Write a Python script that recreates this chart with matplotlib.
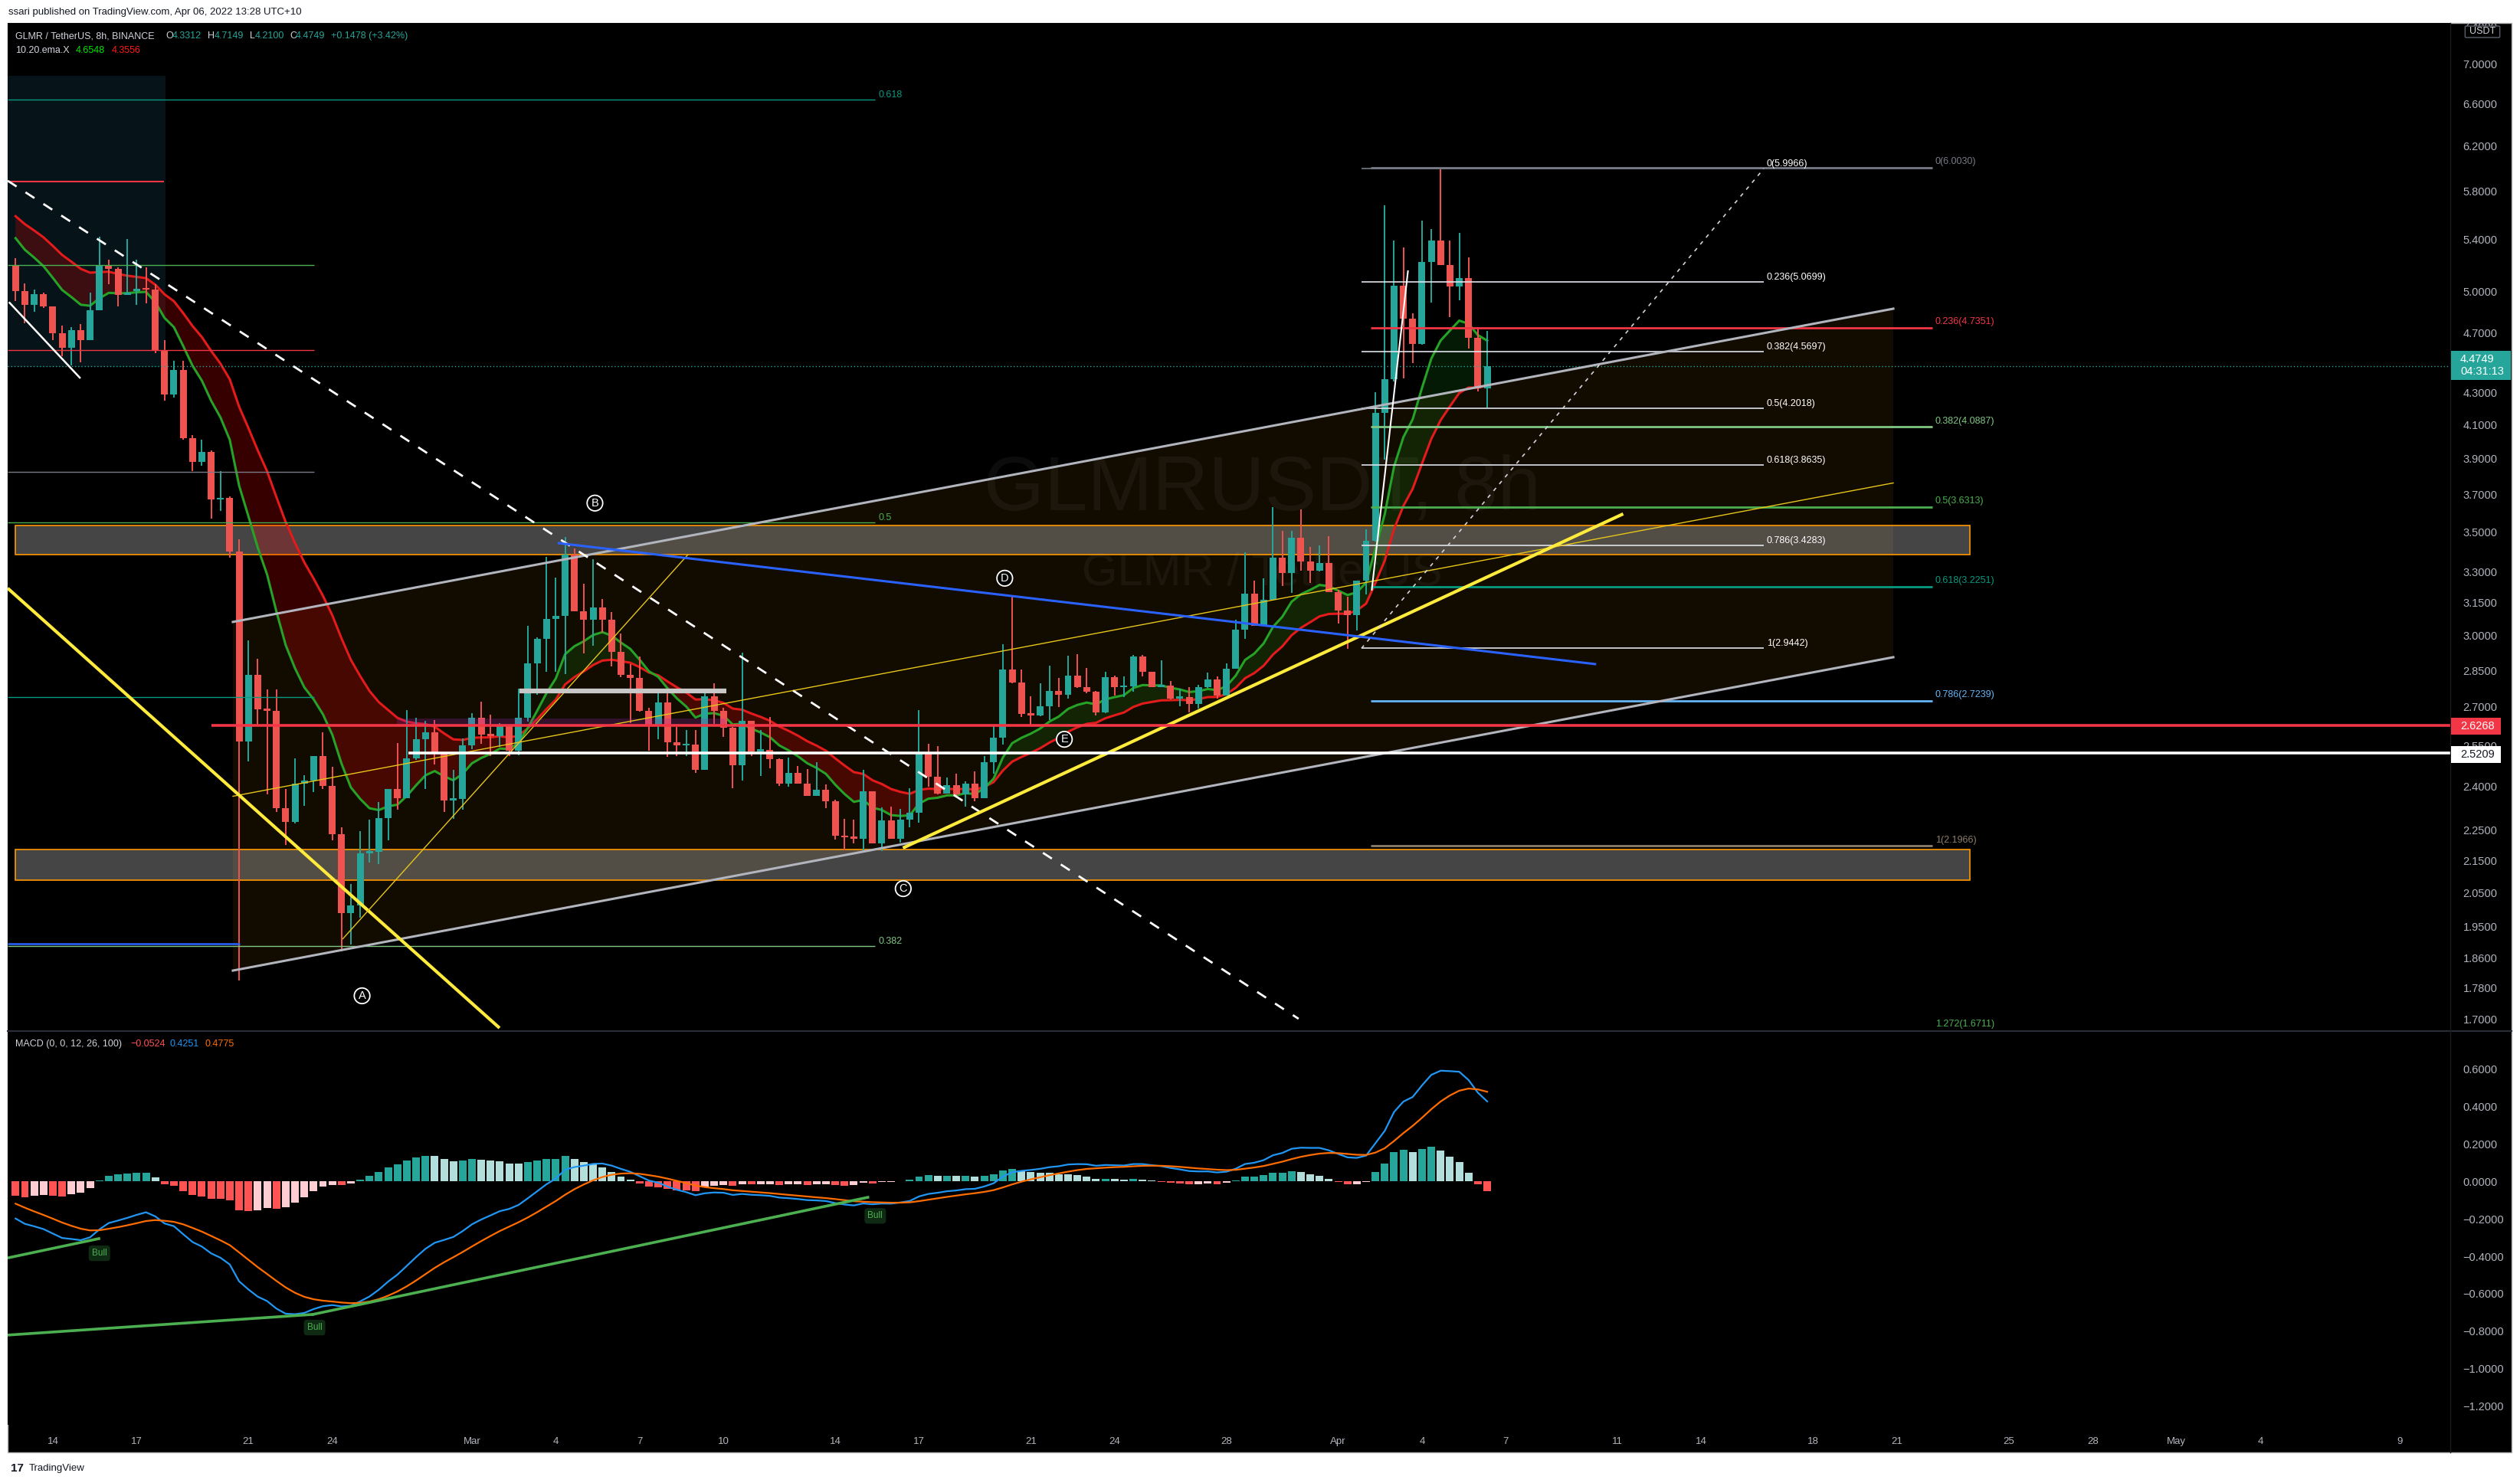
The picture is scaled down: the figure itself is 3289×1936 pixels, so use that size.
"""
GLMR / TetherUS 8h - TradingView style recreation.
Candles + EMA ribbon + drawings, MACD pane underneath.
"""

import matplotlib
matplotlib.use('Agg')
import numpy as np
import matplotlib.pyplot as plt
from matplotlib.patches import Rectangle, Polygon, FancyBboxPatch
from matplotlib.ticker import FixedLocator, NullLocator, NullFormatter, FixedFormatter
from matplotlib.transforms import blended_transform_factory

plt.rcParams['font.family'] = ['Liberation Sans', 'DejaVu Sans']

W, H = 3289, 1936
def fx(px): return px / W
def fy(py): return 1 - py / H

# ── Data (bar index: 0 = Feb 14 00:00, 3 bars per day) ──────────
first_bar = -4
opens = [5.19, 5.00, 4.90, 4.98, 4.89, 4.70, 4.60, 4.72, 4.65, 4.86,
         5.19, 5.17, 4.97, 5.00, 5.02, 5.01, 4.58, 4.29, 4.45, 4.02,
         3.88, 3.94, 3.67, 3.68, 3.40, 2.565, 2.83, 2.69, 2.685, 2.322,
         2.275, 2.41, 2.42, 2.51, 2.40, 2.235, 1.988, 2.011, 2.173, 2.177,
         2.288, 2.39, 2.359, 2.502, 2.573, 2.60, 2.525, 2.351, 2.355, 2.549,
         2.657, 2.592, 2.586, 2.627, 2.531, 2.657, 2.880, 2.986, 3.076, 3.089,
         3.382, 3.110, 3.073, 3.129, 3.073, 2.930, 2.831, 2.817, 2.685, 2.625,
         2.716, 2.561, 2.549, 2.554, 2.460, 2.741, 2.685, 2.617, 2.476, 2.645,
         2.528, 2.533, 2.499, 2.409, 2.447, 2.410, 2.367, 2.388, 2.348, 2.231,
         2.224, 2.221, 2.381, 2.205, 2.281, 2.220, 2.284, 2.308, 2.519, 2.434,
         2.375, 2.404, 2.370, 2.408, 2.359, 2.487, 2.578, 2.854, 2.800, 2.671,
         2.666, 2.703, 2.764, 2.750, 2.828, 2.779, 2.760, 2.678, 2.821, 2.779,
         2.783, 2.908, 2.843, 2.781, 2.787, 2.733, 2.740, 2.712, 2.779, 2.812,
         2.746, 2.857, 3.026, 3.193, 3.046, 3.166, 3.370, 3.291, 3.470, 3.348,
         3.305, 3.340, 3.202, 3.114, 3.092, 3.256, 3.455, 4.176, 4.390, 5.039,
         4.799, 4.623, 5.221, 5.388, 5.200, 5.033, 5.099, 4.664, 4.3312]
highs = [5.25, 5.06, 5.01, 4.99, 4.89, 4.75, 4.74, 4.76, 4.99, 5.42,
         5.24, 5.18, 5.40, 5.24, 5.18, 5.05, 4.65, 4.51, 4.51, 4.04,
         4.01, 3.95, 3.83, 3.69, 3.46, 2.98, 2.90, 2.77, 2.77, 2.39,
         2.50, 2.44, 2.51, 2.60, 2.469, 2.257, 2.076, 2.245, 2.283, 2.344,
         2.39, 2.558, 2.687, 2.657, 2.645, 2.647, 2.525, 2.458, 2.576, 2.675,
         2.720, 2.669, 2.635, 2.627, 2.775, 3.044, 2.992, 3.372, 3.269, 3.473,
         3.414, 3.241, 3.362, 3.169, 3.108, 3.010, 2.877, 2.908, 2.695, 2.764,
         2.762, 2.620, 2.610, 2.610, 2.759, 2.797, 2.695, 2.620, 2.926, 2.645,
         2.609, 2.660, 2.50, 2.503, 2.473, 2.462, 2.487, 2.406, 2.352, 2.286,
         2.283, 2.459, 2.383, 2.326, 2.328, 2.321, 2.392, 2.686, 2.557, 2.547,
         2.431, 2.445, 2.417, 2.453, 2.509, 2.628, 2.963, 3.178, 2.854, 2.742,
         2.795, 2.869, 2.818, 2.912, 2.918, 2.859, 2.763, 2.843, 2.829, 2.824,
         2.916, 2.916, 2.843, 2.892, 2.804, 2.773, 2.779, 2.790, 2.840, 2.824,
         2.878, 3.072, 3.394, 3.256, 3.266, 3.630, 3.503, 3.503, 3.617, 3.424,
         3.428, 3.476, 3.210, 3.180, 3.256, 3.513, 4.304, 5.681, 5.388, 5.337,
         4.840, 5.551, 5.482, 5.9966, 5.388, 5.453, 5.258, 4.740, 4.7149]
lows = [4.93, 4.77, 4.85, 4.88, 4.65, 4.54, 4.48, 4.50, 4.65, 4.86,
        5.05, 4.89, 4.97, 4.90, 4.91, 4.56, 4.25, 4.27, 4.01, 3.83,
        3.86, 3.57, 3.61, 3.37, 1.80, 2.49, 2.63, 2.37, 2.31, 2.20,
        2.27, 2.33, 2.38, 2.39, 2.215, 1.878, 1.898, 1.976, 2.144, 2.138,
        2.215, 2.317, 2.359, 2.496, 2.389, 2.478, 2.309, 2.287, 2.317, 2.535,
        2.555, 2.511, 2.543, 2.511, 2.514, 2.641, 2.749, 2.845, 2.844, 2.833,
        3.110, 2.922, 2.957, 3.013, 2.868, 2.821, 2.635, 2.682, 2.531, 2.573,
        2.507, 2.511, 2.511, 2.449, 2.460, 2.632, 2.583, 2.392, 2.420, 2.511,
        2.438, 2.466, 2.40, 2.399, 2.408, 2.367, 2.365, 2.322, 2.218, 2.183,
        2.204, 2.181, 2.204, 2.181, 2.219, 2.208, 2.258, 2.274, 2.399, 2.370,
        2.373, 2.364, 2.328, 2.346, 2.359, 2.445, 2.552, 2.797, 2.660, 2.628,
        2.663, 2.648, 2.698, 2.734, 2.776, 2.755, 2.666, 2.676, 2.745, 2.738,
        2.760, 2.824, 2.781, 2.779, 2.731, 2.703, 2.678, 2.692, 2.776, 2.733,
        2.746, 2.857, 2.987, 3.046, 3.046, 3.166, 3.231, 3.195, 3.305, 3.246,
        3.300, 3.202, 3.055, 2.944, 3.023, 3.189, 3.450, 3.896, 4.375, 4.395,
        4.495, 4.620, 4.914, 5.200, 4.810, 4.935, 4.590, 4.310, 4.2100]
closes = [5.00, 4.90, 4.98, 4.89, 4.70, 4.60, 4.72, 4.65, 4.86, 5.19,
          5.17, 4.97, 4.99, 5.02, 5.01, 4.58, 4.29, 4.45, 4.02, 3.88,
          3.94, 3.67, 3.68, 3.40, 2.565, 2.83, 2.69, 2.685, 2.322, 2.275,
          2.41, 2.42, 2.51, 2.40, 2.235, 1.988, 2.011, 2.173, 2.177, 2.288,
          2.39, 2.359, 2.502, 2.573, 2.60, 2.525, 2.351, 2.355, 2.549, 2.657,
          2.592, 2.586, 2.627, 2.531, 2.657, 2.880, 2.986, 3.076, 3.089, 3.382,
          3.110, 3.073, 3.129, 3.073, 2.930, 2.831, 2.817, 2.685, 2.625, 2.716,
          2.561, 2.549, 2.554, 2.460, 2.741, 2.685, 2.617, 2.476, 2.645, 2.528,
          2.533, 2.499, 2.409, 2.447, 2.410, 2.367, 2.388, 2.348, 2.231, 2.224,
          2.221, 2.381, 2.205, 2.281, 2.220, 2.284, 2.308, 2.519, 2.434, 2.375,
          2.404, 2.370, 2.408, 2.359, 2.487, 2.578, 2.854, 2.800, 2.671, 2.666,
          2.703, 2.764, 2.750, 2.828, 2.779, 2.760, 2.678, 2.821, 2.779, 2.783,
          2.908, 2.843, 2.781, 2.787, 2.733, 2.740, 2.712, 2.779, 2.812, 2.746,
          2.857, 3.026, 3.193, 3.046, 3.166, 3.370, 3.291, 3.470, 3.348, 3.305,
          3.340, 3.202, 3.114, 3.092, 3.256, 3.455, 4.176, 4.390, 5.039, 4.799,
          4.623, 5.221, 5.388, 5.200, 5.033, 5.099, 4.664, 4.3271, 4.4749]

# indicator state at the left edge of the chart
ema10_seed, ema20_seed = 5.50, 5.65
ema12_seed, ema26_seed, signal_seed = 5.52, 5.69, -0.10

# axis ticks
price_ticks = [7.4, 7.0, 6.6, 6.2, 5.8, 5.4, 5.0, 4.7, 4.3, 4.1, 3.9, 3.7, 3.5, 3.3,
               3.15, 3.0, 2.85, 2.7, 2.55, 2.4, 2.25, 2.15, 2.05, 1.95, 1.86, 1.78, 1.70]
macd_ticks = [0.6, 0.4, 0.2, 0.0, -0.2, -0.4, -0.6, -0.8, -1.0, -1.2]
time_days = [0, 3, 7, 10, 15, 18, 21, 24, 28, 31, 35, 38, 42, 46, 49, 52, 56, 59,
             63, 66, 70, 73, 76, 79, 84]
time_text = ['14', '17', '21', '24', 'Mar', '4', '7', '10', '14', '17', '21', '24', '28',
             'Apr', '4', '7', '11', '14', '18', '21', '25', '28', 'May', '4', '9']

# fib tools
fib1_levels = ['0.618', '0.5', '0.382']
fib1_prices = [6.64, 3.549, 1.894]
fib2_levels = ['0', '0.236', '0.382', '0.5', '0.618', '0.786', '1']
fib2_prices = [5.9966, 5.0699, 4.5697, 4.2018, 3.8635, 3.4283, 2.9442]
fib3_levels = ['0', '0.236', '0.382', '0.5', '0.618', '0.786', '1', '1.272']
fib3_prices = [6.0030, 4.7351, 4.0887, 3.6313, 3.2251, 2.7239, 2.1966, 1.6711]

# ── Colours ────────────────────────────────────────────────────
UP, DN = '#26a69a', '#ef5350'
TXT = '#b2b5be'
fib1_cols = ['#089981', '#4caf50', '#81c784']
fib3_cols = ['#787b86', '#f23645', '#81c784', '#4caf50', '#089981', '#64b5f6', '#8d7e6a', '#4caf50']

o = np.array(opens); h = np.array(highs); l = np.array(lows); c = np.array(closes)
bars = np.arange(first_bar, first_bar + len(c))

def ema(vals, n, seed):
    a = 2.0 / (n + 1)
    out, v = [], seed
    for x in vals:
        v = v + a * (x - v)
        out.append(v)
    return np.array(out)

e10 = ema(c, 10, ema10_seed)
e20 = ema(c, 20, ema20_seed)
macd = ema(c, 12, ema12_seed) - ema(c, 26, ema26_seed)
sig = ema(macd, 9, signal_seed)
hist = macd - sig

# ── Figure ─────────────────────────────────────────────────────
fig = plt.figure(figsize=(W / 100, H / 100), dpi=100, facecolor='white')
fig.add_artist(Rectangle((fx(10), fy(1896)), fx(3278 - 10), (1896 - 30) / H,
                         transform=fig.transFigure, fc='black', ec='#b0b0b0', lw=1, zorder=-10))

XL = (-4.85, 257.4)
ax = fig.add_axes([fx(10), fy(1345), fx(3198 - 10), (1345 - 30) / H])
ax2 = fig.add_axes([fx(10), fy(1860), fx(3198 - 10), (1860 - 1347) / H], sharex=ax)
for a in (ax, ax2):
    a.set_facecolor('black')
    for s in a.spines.values():
        s.set_visible(False)
    a.tick_params(axis='x', length=0, labelbottom=False)
    a.yaxis.tick_right()
    a.tick_params(axis='y', which='both', length=0, pad=12, labelsize=10.5, labelcolor=TXT)

ax.set_yscale('log')
ax.set_ylim(1.6713, 7.442)
ax.set_xlim(*XL)
ax.yaxis.set_major_locator(FixedLocator(price_ticks))
ax.yaxis.set_major_formatter(FixedFormatter([f'{v:.4f}' for v in price_ticks]))
ax.yaxis.set_minor_locator(NullLocator())
ax.yaxis.set_minor_formatter(NullFormatter())

# ── Background drawings ────────────────────────────────────────
# top-left shaded block
ax.add_patch(Rectangle((-4.85, 4.47), 12.1 + 4.85, 6.88 - 4.47, fc='#061318', ec='none', zorder=0.5))
# parallel channel fill + lines
cx0, cx1 = 19.33, 197.6
up0, up1, lo0, lo1 = 3.062, 4.872, 1.826, 2.906
ax.add_patch(Polygon([[cx0, up0], [cx1, up1], [cx1, lo1], [cx0, lo0]], closed=True,
                     fc='#ff9800', alpha=0.075, ec='none', zorder=0.6))
ax.plot([cx0, cx1], [up0, up1], color='#b2b5be', lw=2.2, zorder=5)
ax.plot([cx0, cx1], [lo0, lo1], color='#b2b5be', lw=2.2, zorder=5)
ax.plot([cx0, cx1], [np.sqrt(up0 * lo0), np.sqrt(up1 * lo1)], color='#e6c619', lw=1.0, zorder=5)

# support / resistance zones
for p0, p1 in [(3.383, 3.533), (2.088, 2.185)]:
    ax.add_patch(Rectangle((-4.03, p0), 205.8 + 4.03, p1 - p0, fc='#e8e8e8', alpha=0.3,
                           ec='none', zorder=0.8))
    ax.add_patch(Rectangle((-4.03, p0), 205.8 + 4.03, p1 - p0, fc='none',
                           ec='#ff9800', lw=1.2, zorder=0.9))

# ── EMA ribbon ─────────────────────────────────────────────────
ax.fill_between(bars, e10, e20, where=e10 < e20, interpolate=True, color='#ff0000', alpha=0.22, lw=0, zorder=1)
ax.fill_between(bars, e10, e20, where=e10 >= e20, interpolate=True, color='#1fd01f', alpha=0.13, lw=0, zorder=1)
ax.plot(bars, e20, color='#e31b1b', lw=2.2, zorder=1.5)
ax.plot(bars, e10, color='#26a326', lw=2.2, zorder=1.5)

# ── Candles ────────────────────────────────────────────────────
col = np.where(c >= o, UP, DN)
ax.vlines(bars, l, h, colors=col, lw=1.4, zorder=3)
b_lo = np.minimum(o, c)
b_hi = np.maximum(np.maximum(o, c), b_lo * 1.003)
ax.bar(bars, b_hi - b_lo, bottom=b_lo, width=0.74, color=col, lw=0, zorder=3.1)

# ── Line drawings ──────────────────────────────────────────────
def seg(p, q, **kw):
    ax.plot([p[0], q[0]], [p[1], q[1]], solid_capstyle='butt', **kw)

seg((-4.85, 5.89), (133.75, 1.70), color='white', lw=2, ls=(0, (5, 5)), zorder=5)
seg((-4.85, 3.219), (47.96, 1.677), color='#ffeb3b', lw=3, zorder=5)
seg((91.27, 2.190), (168.6, 3.594), color='#ffeb3b', lw=3, zorder=5)
seg((31.1, 1.913), (68.2, 3.384), color='#e6c619', lw=1.0, zorder=5)
seg((54.2, 3.442), (165.7, 2.876), color='#2962ff', lw=2.2, zorder=5)
seg((140.5, 2.9442), (183.7, 5.9966), color='#d1d4dc', lw=1.2, ls=(0, (3, 4)), zorder=5)
seg((141.6, 3.208), (145.5, 5.157), color='white', lw=1.5, zorder=5)
seg((-4.71, 4.92), (2.96, 4.394), color='white', lw=1.8, zorder=5)

# short left levels
seg((-4.85, 5.88), (11.9, 5.88), color='#f23645', lw=1.5, zorder=4)
for p, cc in [(5.20, '#4caf50'), (4.58, '#f23645'), (3.825, '#787b86'), (2.74, '#089981')]:
    seg((-4.85, p), (28.05, p), color=cc, lw=1.0, zorder=4)
seg((-4.85, 1.90), (20.07, 1.90), color='#2962ff', lw=1.8, zorder=4)

# fib 1 (left)
for lv, p, cc in zip(fib1_levels, fib1_prices, fib1_cols):
    seg((-4.85, p), (88.3, p), color=cc, lw=1.0, zorder=4)
    ax.text(88.6, p, lv, color=cc, fontsize=9, ha='left', va='bottom', zorder=6)

# horizontal key levels
seg((17.0, 2.6268), (XL[1], 2.6268), color='#f23645', lw=2.6, zorder=5)
seg((38.2, 2.5209), (XL[1], 2.5209), color='white', lw=2.6, zorder=5)
ax.axhline(4.4749, color=UP, lw=1, ls=(0, (1, 2)), zorder=4)
ax.add_patch(Rectangle((36.9, 2.626), 72.2 - 36.9, 2.652 - 2.626, fc='#9c27b0', alpha=0.25,
                       ec='none', zorder=4.5))
seg((50.1, 2.764), (72.3, 2.764), color='#c8c8c8', lw=4.5, zorder=5)

# fib 2 (white)
for lv, p in zip(fib2_levels, fib2_prices):
    cc = '#787b86' if lv == '0' else '#e0e3eb'
    seg((140.5, p), (183.7, p), color=cc, lw=1.2, zorder=4)
    ax.text(184.0, p, f'{lv}({p:.4f})', color='white', fontsize=9, ha='left', va='bottom', zorder=6)

# fib 3 (coloured); the 1.272 line sits on the pane edge, only its label shows
for lv, p, cc in zip(fib3_levels, fib3_prices, fib3_cols):
    if lv != '1.272':
        seg((141.5, p), (201.8, p), color=cc, lw=2.0, zorder=4)
    ax.text(202.1, p * 1.002, f'{lv}({p:.4f})', color=cc, fontsize=9, ha='left', va='bottom', zorder=6)

# wave labels
for lab, bx, py in [('A', 33.2, 1.759), ('B', 58.2, 3.652), ('C', 91.3, 2.062),
                    ('D', 102.2, 3.267), ('E', 108.6, 2.573)]:
    ax.text(bx, py, lab, color='white', fontsize=10.5, ha='center', va='center', zorder=7,
            bbox=dict(boxstyle='circle,pad=0.22', fc='black', ec='white', lw=1.3))

# watermark
ax.text(fx(1647), fy(640), 'GLMRUSDT, 8h', transform=fig.transFigure, fontsize=73,
        color='#d1d4dc', alpha=0.06, ha='center', va='center', zorder=0.7)
ax.text(fx(1647), fy(748), 'GLMR / TetherUS', transform=fig.transFigure, fontsize=43,
        color='#d1d4dc', alpha=0.06, ha='center', va='center', zorder=0.7)

# ── MACD pane ──────────────────────────────────────────────────
ax2.set_ylim(-1.298, 0.796)
ax2.yaxis.set_major_locator(FixedLocator(macd_ticks))
ax2.yaxis.set_major_formatter(FixedFormatter([f'{v:.4f}'.replace('-', '\u2212') for v in macd_ticks]))
prev = np.r_[-0.07, hist[:-1]]
hcol = np.where(hist >= 0, np.where(hist > prev, '#26a69a', '#b2dfdb'),
                np.where(hist < prev, '#ff5252', '#ffcdd2'))
ax2.bar(bars, hist, width=0.82, color=hcol, lw=0, zorder=2)
ax2.plot(bars, macd, color='#2196f3', lw=1.6, zorder=3)
ax2.plot(bars, sig, color='#ff6d00', lw=1.6, zorder=3)

# divergence lines + labels
for p, q in [((-4.77, -0.408), (4.94, -0.306)), ((-4.85, -0.82), (27.9, -0.71)),
             ((27.9, -0.71), (87.5, -0.086))]:
    ax2.plot([p[0], q[0]], [p[1], q[1]], color='#4caf50', lw=2.6, zorder=4)
for bx, v in [(5.0, -0.384), (28.1, -0.78), (88.3, -0.185)]:
    ax2.text(bx, v, 'Bull', color='#4caf50', fontsize=8.5, ha='center', va='center', zorder=5,
             bbox=dict(boxstyle='round,pad=0.35', fc='#0f2a12', ec='none'))

# ── Time axis ──────────────────────────────────────────────────
tt = blended_transform_factory(ax2.transData, fig.transFigure)
for d, t in zip(time_days, time_text):
    ax2.text(3 * d, fy(1882), t, transform=tt, color=TXT, fontsize=9.5, ha='center', va='center')

# ── Separators ─────────────────────────────────────────────────
fig.add_artist(plt.Line2D([fx(10), fx(3278)], [fy(1346), fy(1346)], color='#2a2e39', lw=1.5))
fig.add_artist(plt.Line2D([fx(3198), fx(3198)], [fy(30), fy(1896)], color='#1c1c1c', lw=1))

# ── Price-axis badges ──────────────────────────────────────────
def badge(y0, y1, x1, fc):
    fig.add_artist(Rectangle((fx(3199), fy(y1)), fx(x1 - 3199), (y1 - y0) / H,
                             transform=fig.transFigure, fc=fc, ec='none', zorder=10))

badge(458, 496, 3277, UP)
fig.text(fx(3211), fy(469), f'{c[-1]:.4f}', color='white', fontsize=10.5, va='center', zorder=11)
fig.text(fx(3211), fy(485), '04:31:13', color='white', fontsize=10.5, va='center', zorder=11)
badge(937, 959, 3264, '#f23645')
fig.text(fx(3211), fy(948), '2.6268', color='white', fontsize=10.5, va='center', zorder=11)
badge(974, 996, 3264, 'white')
fig.text(fx(3211), fy(985), '2.5209', color='#131722', fontsize=10.5, va='center', zorder=11)
fig.add_artist(FancyBboxPatch((fx(3219), fy(48)), fx(42), 13 / H, boxstyle='round,pad=0.0005',
                              transform=fig.transFigure, fc='black', ec='#5d606b', lw=1, zorder=10))
fig.text(fx(3240), fy(41), 'USDT', color='#d1d4dc', fontsize=9, ha='center', va='center', zorder=11)

# ── Header / legends ───────────────────────────────────────────
fig.text(fx(11), fy(16), 'ssari published on TradingView.com, Apr 06, 2022 13:28 UTC+10',
         color='#131722', fontsize=9.5, va='center')
chg = c[-1] - c[-2]
legend_parts = [(20, 'GLMR / TetherUS, 8h, BINANCE', '#d1d4dc'), (216, 'O', '#d1d4dc'),
                (225, f'{o[-1]:.4f}', UP), (271, 'H', '#d1d4dc'), (280, f'{h[-1]:.4f}', UP),
                (326, 'L', '#d1d4dc'), (333, f'{l[-1]:.4f}', UP), (378, 'C', '#d1d4dc'),
                (386, f'{c[-1]:.4f}', UP), (432, f'+{chg:.4f} (+{chg / c[-2] * 100:.2f}%)', UP)]
for x0, t, cc in legend_parts:
    fig.text(fx(x0), fy(47), t, color=cc, fontsize=9, va='center')
for x0, t, cc in [(20, '10.20.ema.X', '#d1d4dc'), (99, '4.6548', '#00e600'), (146, '4.3556', '#ff1a1a')]:
    fig.text(fx(x0), fy(66), t, color=cc, fontsize=9, va='center')
for x0, t, cc in [(20, 'MACD (0, 0, 12, 26, 100)', '#d1d4dc'), (170, '\u22120.0524', '#ff5252'),
                  (222, '0.4251', '#2196f3'), (267, '0.4775', '#ff6d00')]:
    fig.text(fx(x0), fy(1363), t, color=cc, fontsize=9, va='center')

fig.text(fx(14), fy(1917), '17', color='#131722', fontsize=11, fontweight='bold', va='center')
fig.text(fx(38), fy(1917), 'TradingView', color='#131722', fontsize=9.5, va='center')

fig.savefig('out.png', dpi=100, facecolor='white')
